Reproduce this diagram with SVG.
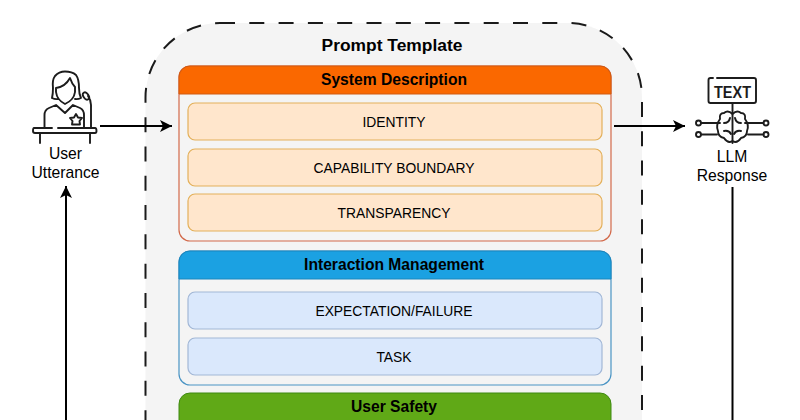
<svg xmlns="http://www.w3.org/2000/svg" width="800" height="420" viewBox="0 0 800 420">
<style>
text{font-family:"Liberation Sans",Arial,sans-serif;fill:#000;text-anchor:middle}
.h{font-weight:bold;font-size:15.650px}
.t{font-size:13.850px}
.l{font-size:15.700px}
.or{fill:#ffe6cc;stroke:#e3b05a;stroke-width:1.200}
.bl{fill:#dae8fc;stroke:#a2b7d6;stroke-width:1.200}
.ic{fill:none;stroke:#1c1c1c;stroke-width:1.900;stroke-linecap:round;stroke-linejoin:round}
.c{fill:none;stroke:#000;stroke-width:2}
.d{fill:none;stroke:#1a1a1a;stroke-width:2;stroke-dasharray:15 14.300}
</style>
<defs>
<marker id="a" markerUnits="userSpaceOnUse" markerWidth="14" markerHeight="14" refX="12" refY="6" orient="auto"><path d="M0 0L12 6L0 12L3 6Z" fill="#000"/></marker>
</defs>
<rect width="800" height="420" fill="#fff"/>
<g id="prompt-template">
<rect x="145.500" y="23" width="496.500" height="480" rx="74.500" ry="74.500" fill="#f4f4f4"/>
<path class="d" d="M220 23H567.500A74.500 74.500 0 0 1 642 97.500V430"/>
<path class="d" style="stroke-dashoffset:10" d="M220 23A74.500 74.500 0 0 0 145.500 97.500V430"/>
<text x="392" y="51" style="font-weight:bold;font-size:17.400px">Prompt Template</text>
</g>
<g id="system-description">
<rect x="179" y="66" width="432" height="175" rx="11" fill="#f4f4f4" stroke="#d2694a" stroke-width="1.200"/>
<path d="M179 94V77a11 11 0 0 1 11-11H600a11 11 0 0 1 11 11V94Z" fill="#fa6800" stroke="#d05a10"/>
<text class="h" x="394" y="84.500">System Description</text>
</g>
<g id="identity"><rect class="or" x="188" y="103" width="414" height="37" rx="7"/><text class="t" x="394" y="126.500">IDENTITY</text></g>
<g id="capability-boundary"><rect class="or" x="188" y="149" width="414" height="37" rx="7"/><text class="t" x="394" y="172.500">CAPABILITY BOUNDARY</text></g>
<g id="transparency"><rect class="or" x="188" y="194" width="414" height="37" rx="7"/><text class="t" x="394" y="217.500">TRANSPARENCY</text></g>
<g id="interaction-management">
<rect x="179" y="251" width="432" height="134" rx="11" fill="#f4f4f4" stroke="#4a94c4" stroke-width="1.200"/>
<path d="M179 279V262a11 11 0 0 1 11-11H600a11 11 0 0 1 11 11V279Z" fill="#1ba1e2" stroke="#1a86bd"/>
<text class="h" x="394" y="269.500">Interaction Management</text>
</g>
<g id="expectation-failure"><rect class="bl" x="188" y="292" width="414" height="37" rx="7"/><text class="t" x="394" y="316">EXPECTATION/FAILURE</text></g>
<g id="task"><rect class="bl" x="188" y="338" width="414" height="37" rx="7"/><text class="t" x="394" y="362">TASK</text></g>
<g id="user-safety">
<rect x="179" y="393" width="432" height="60" rx="11" fill="#60a917" stroke="#3f8a12"/>
<text class="h" x="394" y="411.500">User Safety</text>
</g>
<g id="user-utterance">
<path class="ic" d="M52 128H34Q33 128 33 131Q33 133 35 133H95Q96.500 133 96.500 131Q96.500 128 95 128H58M40 133V143M90 133V143M44.500 127V115Q44.500 110 49 108L56 105L65 113L73 105L80 108Q84 110 84 115V127M91 127V105Q91 100 88 96"/>
<path class="ic" d="M52 98Q53 94 53 88Q52 80 55 76Q59 71.500 65 71.500Q72 71.500 76 75Q79 79 79 88Q79 94 81 98Q78 99.500 75 99M52 98Q55 99.500 58 99M56 88Q65 87 70 78Q72 84 75 87V92Q74 100 65 104Q57 100 56 92Z"/>
<ellipse class="ic" cx="86" cy="96" rx="2.500" ry="4" transform="rotate(-35 86 96)"/>
<path class="ic" d="M76 114L78 117.500L82 118L79.500 121L80 124.500H72L72.500 121L70 118L74 117.500Z"/>
<text class="l" x="65.500" y="158.500">User</text>
<text class="l" x="65.500" y="178">Utterance</text>
</g>
<g id="llm-response">
<path class="ic" d="M713 78H710.500Q708.500 78 708.500 80V101Q708.500 103 710.500 103H754Q756 103 756 101V80Q756 78 754 78H717"/>
<text x="732.500" y="97.500" textLength="37" lengthAdjust="spacingAndGlyphs" style="font-weight:bold;font-size:17px;fill:#1c1c1c">TEXT</text>
<path class="ic" d="M732.500 103V143M701 123H720M701 134.500H717M745 123H763.500M748 134.500H763.500"/>
<circle class="ic" cx="698.500" cy="123" r="2.500"/><circle class="ic" cx="698.500" cy="134.500" r="2.500"/><circle class="ic" cx="766" cy="123" r="2.500"/><circle class="ic" cx="766" cy="134.500" r="2.500"/>
<path class="ic" d="M732.500 114Q728 109.500 724 113Q719 113 720 119Q715.500 125 718 131Q718 137 724 138Q728 144 732.500 141Q737 144 741 138Q747 137 747 131Q749.500 125 745 119Q746 113 741 113Q737 109.500 732.500 114M724 123Q729 123 730 118M741 123Q736 123 735 118M724 131Q729 130 731 134M741 131Q736 130 734 134"/>
<text class="l" x="732" y="161.500">LLM</text>
<text class="l" x="732" y="181">Response</text>
</g>
<g id="connectors">
<path class="c" d="M100 126H172" marker-end="url(#a)"/>
<path class="c" d="M614 126H685" marker-end="url(#a)"/>
<path class="c" d="M66 420V186" marker-end="url(#a)"/>
<path class="c" d="M732.500 187V420"/>
</g>
</svg>
